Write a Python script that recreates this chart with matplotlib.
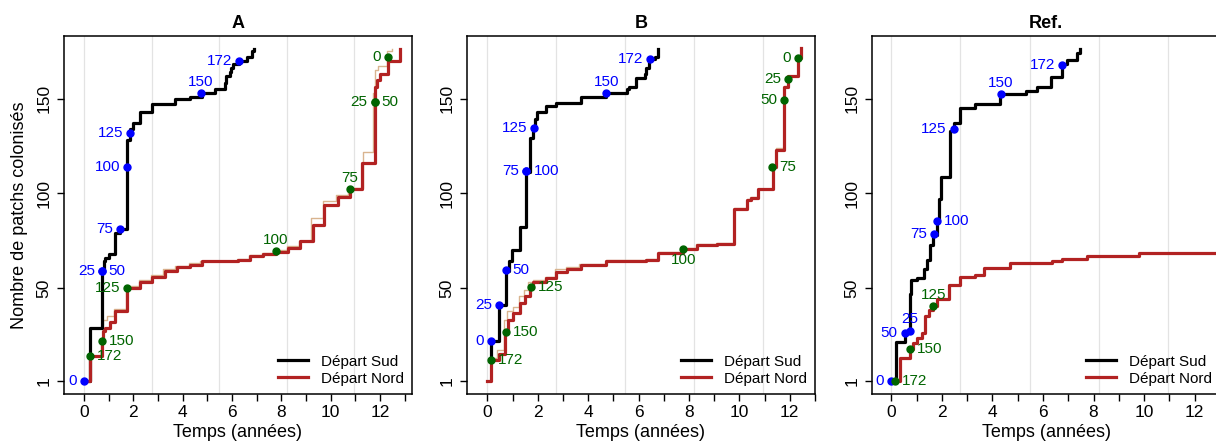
"""
Colonisation curves: cumulative number of colonised patches over time,
three scenarios (A, B, Ref.), start from the South vs start from the North.
"""
import numpy as np
import matplotlib.pyplot as plt

plt.rcParams['font.family'] = ['Liberation Sans', 'DejaVu Sans']

BLACK = "black"
RED = "#B22222"
TAN = "#D9B48F"
BLUE = "#0000FF"
GREEN = "#006400"

# ---------------- panel A ----------------
A_sud_t = [0, 0.24, 0.72, 0.80, 0.86, 1.00, 1.26, 1.46, 1.74, 1.87, 2.00, 2.27, 2.74,
           3.69, 4.30, 4.77, 5.31, 5.72, 5.77, 5.92, 5.97, 6.05, 6.30, 6.59, 6.80, 6.88]
A_sud_n = [1, 29, 60, 64, 66, 68, 79, 81, 128, 134, 137, 143, 147,
           150, 151, 153, 155, 158, 162, 164, 166, 168, 170, 172, 175, 176]
A_nord_t = [0.0, 0.24, 0.72, 0.78, 0.84, 1.05, 1.26, 1.74, 2.27, 2.74, 3.28, 3.76, 4.30,
            4.77, 6.26, 6.73, 7.27, 7.77, 8.28, 8.76, 9.30, 9.74, 10.30, 10.77, 11.28,
            11.78, 11.88, 12.00, 12.31, 12.80]
A_nord_n = [1, 14, 21, 27, 29, 32, 38, 50, 53, 56, 59, 61, 62,
            64, 65, 67, 68, 69, 71, 75, 83, 94, 98, 102, 116,
            156, 160, 163, 170, 176]
A_tan_t = [0.0, 0.24, 0.70, 0.76, 0.95, 1.20, 1.70, 2.22, 2.70, 3.22, 3.70, 4.25, 4.72,
           6.20, 6.68, 7.22, 7.72, 8.22, 8.70, 9.22, 9.68, 10.22, 10.72, 11.30, 11.73,
           11.82, 11.92, 12.30, 12.50]
A_tan_n = [1, 14, 22, 33, 35, 39, 51, 54, 57, 60, 61.5, 63, 64,
           65.5, 67.5, 68.5, 70, 72, 75, 87, 96, 99, 102.5, 122, 153,
           165, 167, 175, 176]
A_blue_t = [0, 0.72, 0.72, 1.46, 1.74, 1.87, 4.74, 6.30]
A_blue_n = [1, 59, 59, 81, 114, 132, 153, 170]
A_blue_lab = ["0", "25", "50", "75", "100", "125", "150", "172"]
A_blue_pos = ["l", "l", "r", "l", "l", "l", "t", "l"]
A_green_t = [0.24, 0.72, 1.74, 7.77, 10.77, 11.78, 11.78, 12.31]
A_green_n = [14, 22, 50, 69.5, 102, 148, 148, 172]
A_green_lab = ["172", "150", "125", "100", "75", "25", "50", "0"]
A_green_pos = ["r", "r", "l", "t", "t", "l", "r", "l"]

# ---------------- panel B ----------------
B_sud_t = [0.15, 0.15, 0.46, 0.73, 0.86, 0.99, 1.28, 1.55, 1.68, 1.81, 1.87, 1.98, 2.32,
           2.74, 3.73, 4.72, 5.52, 5.62, 5.91, 6.24, 6.31, 6.40, 6.64, 6.77]
B_sud_n = [12, 22, 41, 59, 64, 70, 82, 111, 129, 135, 139, 143, 146,
           147.5, 151, 153, 155, 156, 161, 163, 166, 171, 172, 176]
B_nord_t = [0.0, 0.15, 0.46, 0.69, 0.80, 1.02, 1.28, 1.48, 1.68, 1.82, 2.34, 2.74, 3.14,
            3.70, 4.72, 6.31, 6.77, 7.77, 8.30, 9.10, 9.79, 10.32, 10.45, 10.74, 11.34,
            11.47, 11.77, 11.93, 12.33, 12.46]
B_nord_n = [1, 12, 15, 27, 33, 37, 42, 46, 50, 53, 55, 58.6, 60,
            62, 64, 65, 68.6, 70.8, 72.6, 73, 91.6, 96.3, 97.5, 102, 114,
            123, 156, 161.8, 171.4, 176.5]
B_tan_t = [0.0, 0.15, 0.40, 0.65, 0.78, 1.00, 1.25, 1.45, 1.60, 1.80, 2.30, 2.70, 3.10,
           3.65, 4.70, 6.30, 6.75, 7.75, 8.28, 9.08, 9.77, 10.30, 10.43, 10.72, 11.32,
           11.45, 11.77, 11.92, 12.32, 12.45]
B_tan_n = [1, 13, 17, 33, 38, 40, 46, 49, 53, 54, 56, 60, 61,
           62.5, 64.5, 65.5, 69, 71, 73, 73.5, 92, 96.8, 98, 102.3, 114.5,
           124, 156.5, 162, 171.8, 176.5]
B_blue_t = [0.15, 0.46, 0.73, 1.55, 1.55, 1.85, 4.72, 6.47]
B_blue_n = [22, 41, 59.5, 111.5, 111.5, 134.5, 153, 171]
B_blue_lab = ["0", "25", "50", "75", "100", "125", "150", "172"]
B_blue_pos = ["l", "l", "r", "l", "r", "l", "t", "l"]
B_green_t = [0.15, 0.73, 1.71, 7.77, 11.31, 11.77, 11.93, 12.33]
B_green_n = [12, 26.6, 50.3, 70.8, 113.8, 149, 160.4, 171.4]
B_green_lab = ["172", "150", "125", "100", "75", "50", "25", "0"]
B_green_pos = ["r", "r", "r", "b", "r", "l", "l", "l"]

# ---------------- panel Ref. ----------------
R_sud_t = [0, 0.18, 0.53, 0.75, 0.80, 1.02, 1.28, 1.41, 1.55, 1.65, 1.81, 1.87, 1.95,
           2.31, 2.47, 2.73, 3.33, 4.32, 5.31, 5.77, 6.32, 6.76, 6.96, 7.35, 7.45]
R_sud_n = [1, 21.7, 26, 47, 54, 55, 60, 64.7, 72.6, 78, 86, 97, 108.6,
           133, 137, 145, 147, 152.5, 154.2, 156, 161.2, 168, 170.4, 174, 176]
R_nord_t = [0.18, 0.33, 0.75, 0.88, 1.02, 1.21, 1.35, 1.50, 1.67, 1.80, 2.27, 2.73, 3.33,
            3.66, 4.71, 6.36, 6.76, 7.75, 9.80, 13.2]
R_nord_n = [1, 13, 17.7, 21, 23.5, 26, 35, 38.4, 40.5, 44, 51.5, 55.6, 56.8,
            60.3, 63, 64.4, 65.1, 67, 68.2, 68.2]
R_blue_t = [0, 0.53, 0.73, 1.68, 1.81, 2.47, 4.34, 6.76]
R_blue_n = [1, 26, 27.5, 78.4, 85.4, 134, 152.5, 167.7]
R_blue_lab = ["0", "50", "25", "75", "100", "125", "150", "172"]
R_blue_pos = ["l", "l", "t", "l", "r", "l", "t", "l"]
R_green_t = [0.16, 0.75, 1.67]
R_green_n = [1, 17.7, 40.5]
R_green_lab = ["172", "150", "125"]
R_green_pos = ["r", "r", "t"]

GRID_DAYS = [0, 1000, 2000, 3000, 4000]

OFFS = {"l": ((-5, 0), "right", "center"), "r": ((5, 0), "left", "center"),
        "t": ((0, 3), "center", "bottom"), "b": ((0, -3), "center", "top")}


def label_points(ax, t, n, labs, pos, color):
    ax.plot(t, n, "o", color=color, ms=5, zorder=5)
    for x, y, s, p in zip(t, n, labs, pos):
        off, ha, va = OFFS[p]
        ax.annotate(s, (x, y), xytext=off, textcoords="offset points",
                    ha=ha, va=va, color=color, fontsize=11, zorder=6)


def panel(ax, title, xlim, sud, nord, tan, blue, green):
    for d in GRID_DAYS:
        ax.axvline(d / 365.25, color="#E3E3E3", lw=0.9, zorder=0)
    if tan is not None:
        ax.plot(tan[0], tan[1], drawstyle="steps-post", color=TAN, lw=1.0, zorder=2)
    ax.plot(nord[0], nord[1], drawstyle="steps-post", color=RED, lw=2.3, zorder=4,
            label="Départ Nord")
    ax.plot(sud[0], sud[1], drawstyle="steps-post", color=BLACK, lw=2.3, zorder=3,
            label="Départ Sud")
    label_points(ax, *blue, BLUE)
    label_points(ax, *green, GREEN)

    ax.set_xlim(*xlim)
    ax.set_ylim(-6, 183)
    ax.set_xticks(range(0, 14))
    ax.set_xticklabels([str(i) if i % 2 == 0 else "" for i in range(0, 14)])
    ax.set_yticks([1, 50, 100, 150])
    ax.set_yticklabels(["1", "50", "100", "150"], rotation=90, va="center")
    ax.tick_params(direction="out", length=5, width=1, labelsize=12.5, pad=3)
    ax.tick_params(axis="y", pad=4)
    for s in ax.spines.values():
        s.set_linewidth(1.1)
    ax.set_title(title, fontsize=13, fontweight="bold", pad=6)
    ax.set_xlabel("Temps (années)", fontsize=13, labelpad=3)

    h, l = ax.get_legend_handles_labels()
    ax.legend(h[::-1], l[::-1], loc="lower right", frameon=False, fontsize=11,
              handlelength=2.0, handletextpad=0.8, labelspacing=0.2,
              borderaxespad=0.15, bbox_to_anchor=(1.0, 0.0))


fig = plt.figure(figsize=(12.16, 4.47), dpi=100)
W, H = 1216, 447
ax_a = fig.add_axes([64 / W, 53 / H, 348 / W, 358 / H])
ax_b = fig.add_axes([467 / W, 53 / H, 348 / W, 358 / H])
ax_r = fig.add_axes([872 / W, 53 / H, 348 / W, 358 / H])

panel(ax_a, "A", (-0.81, 13.3), (A_sud_t, A_sud_n), (A_nord_t, A_nord_n),
      (A_tan_t, A_tan_n),
      (A_blue_t, A_blue_n, A_blue_lab, A_blue_pos),
      (A_green_t, A_green_n, A_green_lab, A_green_pos))
panel(ax_b, "B", (-0.81, 13.0), (B_sud_t, B_sud_n), (B_nord_t, B_nord_n),
      (B_tan_t, B_tan_n),
      (B_blue_t, B_blue_n, B_blue_lab, B_blue_pos),
      (B_green_t, B_green_n, B_green_lab, B_green_pos))
panel(ax_r, "Ref.", (-0.76, 13.0), (R_sud_t, R_sud_n), (R_nord_t, R_nord_n), None,
      (R_blue_t, R_blue_n, R_blue_lab, R_blue_pos),
      (R_green_t, R_green_n, R_green_lab, R_green_pos))

ax_a.set_ylabel("Nombre de patchs colonisés", fontsize=13, labelpad=6)

fig.savefig("out.png", dpi=100)
